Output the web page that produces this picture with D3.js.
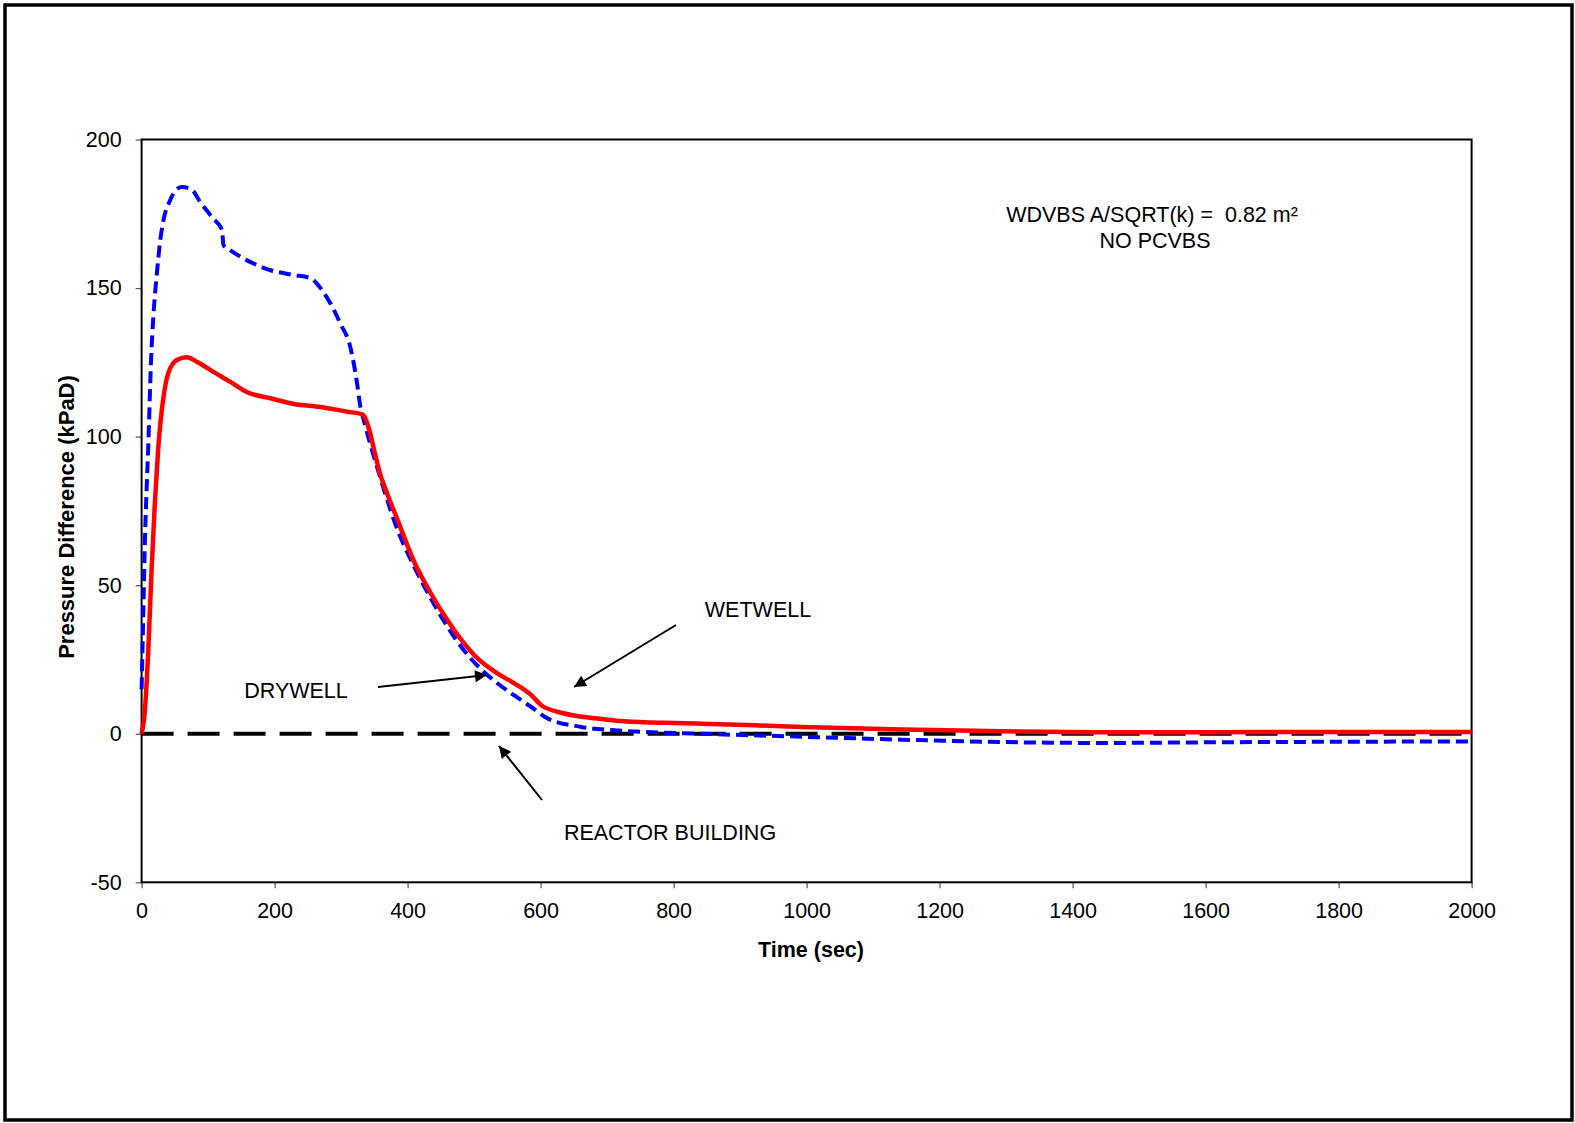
<!DOCTYPE html>
<meta charset="utf-8">
<html>
<head>
  <title>pressure difference</title>
  <script src="https://d3js.org/d3.v7.min.js"></script>
  <style>
    body { margin: 0; background: #fff; }
    text { font-family: "Liberation Sans", Arial, sans-serif; fill: #000; }
  </style>
</head>
<body>
<div id="chart"></div>
<script>
/* data */
var drywellTime  = [0, 5, 10, 15, 20, 25, 33, 40, 53, 68, 83, 108, 133, 158, 194, 229, 269, 309, 332,
                    360, 385, 410, 435, 460, 485, 500, 535, 561, 586, 601, 636, 686, 736, 842, 993,
                    1144, 1295, 1446, 1600, 1800, 2000];
var drywellValue = [0, 8, 28, 55, 78, 96, 113.4, 121.3, 125.8, 126.7, 125.2, 121.8, 118.5, 115, 112.9, 111, 110, 108.4, 107.5,
                    86.5, 71.9, 57.8, 47.2, 38.2, 30.4, 26.5, 20.3, 16.9, 13, 9.6, 6.8, 5.1, 4, 3.4, 2.3,
                    1.4, 0.8, 0.5, 0.5, 0.6, 0.6];

var wetwellTime  = [0, 2, 5, 8, 10, 14, 18, 23, 28, 33, 43, 60, 75, 88, 106, 121, 123, 133, 158, 194, 229, 254,
                    269, 284, 299, 314, 324, 329, 334, 360, 385, 410, 435, 460, 485, 510, 535, 561, 586, 611,
                    661, 711, 842, 993, 1144, 1295, 1446, 1600, 1800, 2000];
var wetwellValue = [15, 35, 65, 85, 96.6, 124.6, 141.5, 155, 166, 173, 179.6, 184, 183.2, 179, 173.8, 169.5, 164.5, 162.8, 159.4, 156, 154.4, 153.3,
                    150, 144.8, 138, 130, 118, 110, 105.6, 85.4, 68.5, 56.2, 45.5, 36, 28, 21.8, 17, 12.8, 9, 5.1,
                    2.3, 1.2, 0, -1, -2, -2.8, -3.1, -2.9, -2.7, -2.6];

var reactorTime  = [0, 2000];
var reactorValue = [0, 0];

var xTicks = [0, 200, 400, 600, 800, 1000, 1200, 1400, 1600, 1800, 2000];
var yTicks = [-50, 0, 50, 100, 150, 200];

/* layout */
var totalWidth = 1575, totalHeight = 1123;
var plot = {left: 141.6, right: 1471.6, top: 139.5, bottom: 882.3};
var fontSize = 21.5;

var svg = d3.select("#chart").append("svg")
    .attr("width", totalWidth)
    .attr("height", totalHeight);

/* outer frame */
svg.append("rect")
    .attr("x", 5).attr("y", 5)
    .attr("width", 1567).attr("height", 1115)
    .attr("fill", "none").attr("stroke", "#000").attr("stroke-width", 3.5);

var x = d3.scaleLinear().domain([0, 2000]).range([plot.left, plot.right]);
var y = d3.scaleLinear().domain([-50, 200]).range([plot.bottom, plot.top]);

/* axes - plain hyphen for negatives like the original */
var fmt = function(d){ return String(d); };
var xAxis = d3.axisBottom(x).tickValues(xTicks).tickSize(6).tickPadding(14).tickFormat(fmt);
var yAxis = d3.axisLeft(y).tickValues(yTicks).tickSize(6).tickPadding(14).tickFormat(fmt);

var gx = svg.append("g").attr("transform", "translate(0," + plot.bottom + ")").call(xAxis);
var gy = svg.append("g").attr("transform", "translate(" + plot.left + ",0)").call(yAxis);
[gx, gy].forEach(function(g){
    g.select(".domain").remove();
    g.selectAll(".tick line").attr("stroke", "#555").attr("stroke-width", 1.2);
    g.selectAll(".tick text")
        .style("font-family", "'Liberation Sans', Arial, sans-serif")
        .style("font-size", fontSize + "px")
        .attr("fill", "#000");
});
gx.selectAll(".tick text").attr("dy", "0.75em");

/* plot frame */
svg.append("rect")
    .attr("x", plot.left).attr("y", plot.top)
    .attr("width", plot.right - plot.left).attr("height", plot.bottom - plot.top)
    .attr("fill", "none").attr("stroke", "#000").attr("stroke-width", 2);

/* axis titles */
svg.append("text")
    .attr("x", 811).attr("y", 957)
    .attr("text-anchor", "middle")
    .style("font-size", fontSize + "px").style("font-weight", "bold")
    .text("Time (sec)");

svg.append("text")
    .attr("transform", "translate(74,517) rotate(-90)")
    .attr("text-anchor", "middle")
    .style("font-size", "22px").style("font-weight", "bold")
    .text("Pressure Difference (kPaD)");

/* lines */
function toPoints(ts, vs){ return ts.map(function(t, i){ return [t, vs[i]]; }); }
var line = d3.line()
    .x(function(d){ return x(d[0]); })
    .y(function(d){ return y(d[1]); })
    .curve(d3.curveMonotoneX);

svg.append("path")
    .datum(toPoints(reactorTime, reactorValue))
    .attr("d", line)
    .attr("fill", "none").attr("stroke", "#000")
    .attr("stroke-width", 4).attr("stroke-dasharray", "32,14");

svg.append("path")
    .datum(toPoints(wetwellTime, wetwellValue))
    .attr("d", line)
    .attr("fill", "none").attr("stroke", "#0000ff")
    .attr("stroke-width", 4).attr("stroke-dasharray", "12,6");

svg.append("path")
    .datum(toPoints(drywellTime, drywellValue))
    .attr("d", line)
    .attr("fill", "none").attr("stroke", "#ff0000")
    .attr("stroke-width", 4.5);

/* annotations */
svg.append("text")
    .attr("x", 1152).attr("y", 222)
    .attr("text-anchor", "middle")
    .style("font-size", fontSize + "px").style("white-space", "pre")
    .text("WDVBS A/SQRT(k) =  0.82 m\u00b2");
svg.append("text")
    .attr("x", 1155).attr("y", 248)
    .attr("text-anchor", "middle")
    .style("font-size", fontSize + "px")
    .text("NO PCVBS");

var labels = [
    {text: "WETWELL", x: 758, y: 617},
    {text: "DRYWELL", x: 296, y: 698},
    {text: "REACTOR BUILDING", x: 670, y: 840}
];
svg.selectAll(".lbl").data(labels).enter().append("text")
    .attr("class", "lbl")
    .attr("x", function(d){ return d.x; })
    .attr("y", function(d){ return d.y; })
    .attr("text-anchor", "middle")
    .style("font-size", fontSize + "px")
    .text(function(d){ return d.text; });

svg.append("defs").append("marker")
    .attr("id", "arrow")
    .attr("viewBox", "0 0 10 10")
    .attr("refX", 10).attr("refY", 5)
    .attr("markerWidth", 16).attr("markerHeight", 12)
    .attr("markerUnits", "userSpaceOnUse")
    .attr("orient", "auto")
    .append("path").attr("d", "M0,0 L10,5 L0,10 z").attr("fill", "#000");

var arrows = [
    {x1: 378, y1: 687, x2: 487, y2: 675},
    {x1: 676, y1: 625, x2: 574, y2: 687},
    {x1: 542, y1: 800, x2: 499, y2: 746}
];
svg.selectAll(".arr").data(arrows).enter().append("line")
    .attr("class", "arr")
    .attr("x1", function(d){ return d.x1; })
    .attr("y1", function(d){ return d.y1; })
    .attr("x2", function(d){ return d.x2; })
    .attr("y2", function(d){ return d.y2; })
    .attr("stroke", "#000").attr("stroke-width", 2)
    .attr("marker-end", "url(#arrow)");
</script>
</body>
</html>
